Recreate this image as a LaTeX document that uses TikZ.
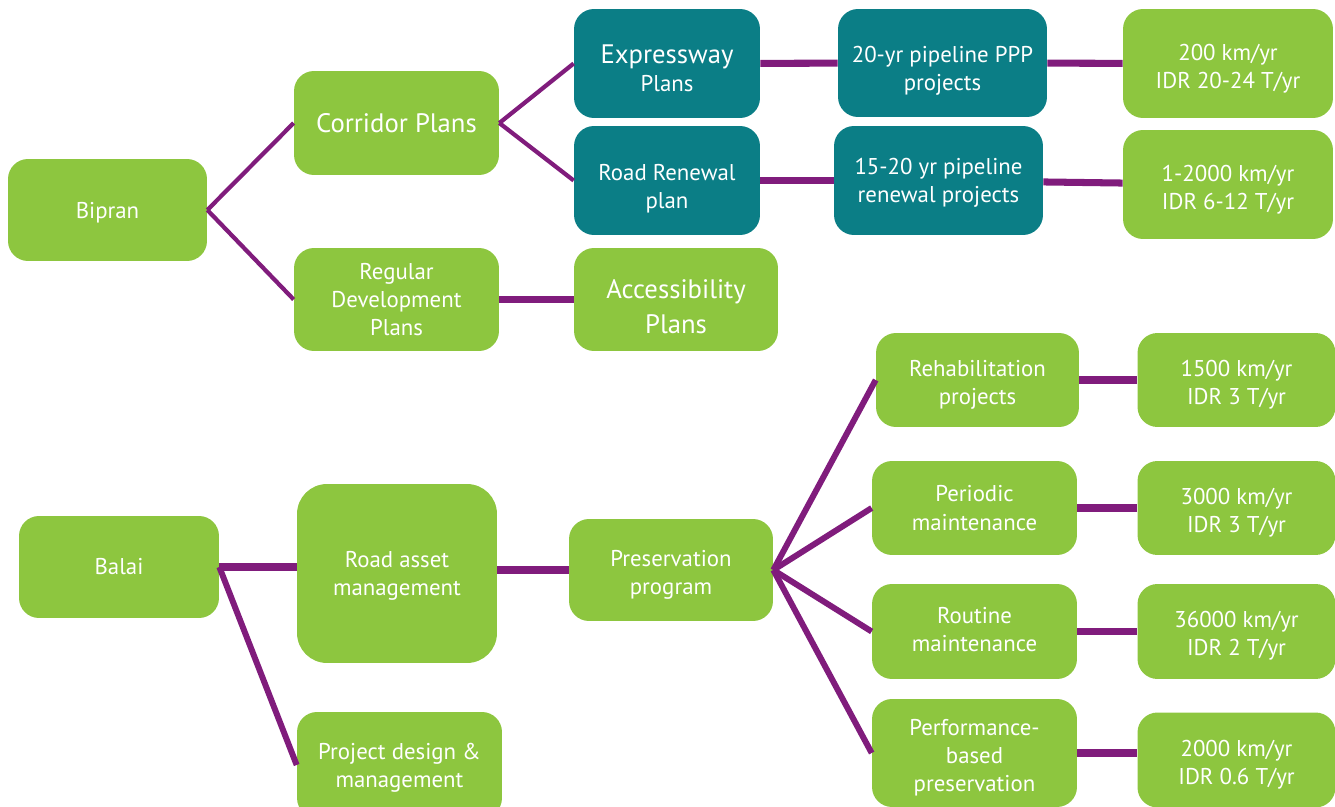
\documentclass[tikz,border=0pt]{standalone}
\usepackage{fontspec}
\setmainfont{PT Sans}
\definecolor{leaf}{RGB}{141,198,63}
\definecolor{petrol}{RGB}{11,126,134}
\definecolor{plum}{RGB}{128,28,124}
% text set a little below the middle of its box
\newcommand\lowtext[2]{\raisebox{-#1}[\height][\depth]{\begin{tabular}{@{}c@{}}#2\end{tabular}}}

\begin{document}
\begin{tikzpicture}[x=0.02cm,y=-0.02cm,
  box/.style={fill=leaf,rounded corners=0.4cm,text=white,align=center,inner sep=0pt,font=\fontsize{13}{16}\selectfont},
  tbox/.style={box,fill=petrol},
  big/.style={font=\fontsize{15.2}{20}\selectfont},
  thin/.style={plum,line width=2.4pt},
  thick/.style={plum,line width=4pt}]
\useasboundingbox (0,0) rectangle (1335,807);
\clip (0,0) rectangle (1335,807);
% upper tree
\node[box,text depth=0pt,minimum width=3.98cm,minimum height=2.04cm] (bipran) at (107.5,210) {Bipran};
\node[box,big,minimum width=4.1cm,minimum height=2.08cm] (corridor) at (396.5,123) {Corridor Plans};
\node[box,minimum width=4.1cm,minimum height=2.06cm] (regular) at (396.5,299.5) {Regular\\Development\\Plans};
\node[tbox,minimum width=3.72cm,minimum height=2.18cm] (express) at (667,63.5) {\lowtext{0.17cm}{{\fontsize{15.2}{20}\selectfont Expressway}\\Plans}};
\node[tbox,minimum width=4.18cm,minimum height=2.16cm] (ppppipe) at (942.5,63) {\lowtext{0.16cm}{20-yr pipeline PPP\\projects}};
\node[box,minimum width=4.2cm,minimum height=2.18cm] (ppplen) at (1228,63.5) {\lowtext{0.1cm}{200 km/yr\\IDR 20-24 T/yr}};
\node[tbox,minimum width=3.72cm,minimum height=2.18cm] (renewal) at (667,180.5) {\lowtext{0.16cm}{Road Renewal\\plan}};
\node[tbox,text depth=0pt,minimum width=4.18cm,minimum height=2.18cm] (renpipe) at (938.5,180.5) {15-20 yr pipeline\\renewal projects};
\node[box,minimum width=4.2cm,minimum height=2.18cm] (renlen) at (1228,184.5) {\lowtext{0.1cm}{1-2000 km/yr\\IDR 6-12 T/yr}};
\node[box,big,minimum width=4.08cm,minimum height=2.06cm] (access) at (676,299.5) {\lowtext{0.19cm}{Accessibility\\Plans}};

\draw[thin] (bipran.east) -- (corridor.west);
\draw[thin] (bipran.east) -- (regular.west);
\draw[thin] (corridor.east) -- (express.west);
\draw[thin] (corridor.east) -- (renewal.west);
\draw[thick] (express) -- (ppppipe);
\draw[thick] (ppppipe) -- (ppplen);
\draw[thick] (renewal) -- (renpipe);
\draw[thick] (renpipe) -- (renlen);
\draw[thick] (regular) -- (access);

% lower tree
\node[box,minimum width=4cm,minimum height=2.04cm] (balai) at (119,567) {Balai};
\node[box,text depth=0pt,rounded corners=0.6cm,minimum width=4cm,minimum height=3.58cm] (asset) at (397,573.5) {Road asset\\management};
\node[box,minimum width=4.1cm,minimum height=2.12cm] (design) at (399.5,765) {\lowtext{0.06cm}{Project design \&\\management}};
\node[box,minimum width=4.08cm,minimum height=2.04cm] (preserve) at (671,570) {\lowtext{0.1cm}{Preservation\\program}};
\node[box,minimum width=4.06cm,minimum height=1.88cm] (rehab) at (977.5,380) {\lowtext{0.1cm}{Rehabilitation\\projects}};
\node[box,minimum width=4.1cm,minimum height=1.88cm] (periodic) at (974.5,508) {Periodic\\maintenance};
\node[box,text depth=0.08cm,minimum width=4.1cm,minimum height=1.9cm] (routine) at (974.5,631.5) {Routine\\maintenance};
\node[box,minimum width=4.1cm,minimum height=2.16cm] (perform) at (974.5,753) {\lowtext{0.1cm}{Performance-\\based\\preservation}};
\node[box,minimum width=3.96cm,minimum height=1.88cm] (rehablen) at (1236.5,380) {\lowtext{0.1cm}{1500 km/yr\\IDR 3 T/yr}};
\node[box,minimum width=3.96cm,minimum height=1.88cm] (periodlen) at (1236.5,508) {\lowtext{0.1cm}{3000 km/yr\\IDR 3 T/yr}};
\node[box,minimum width=3.96cm,minimum height=1.9cm] (routinelen) at (1236.5,631.5) {\lowtext{0.08cm}{36000 km/yr\\IDR 2 T/yr}};
\node[box,minimum width=3.96cm,minimum height=1.9cm] (performlen) at (1236.5,760) {\lowtext{0.1cm}{2000 km/yr\\IDR 0.6 T/yr}};

\draw[thick] (balai.east) -- (balai.east -| asset.west);
\draw[thin,line width=3.4pt] (balai.east) -- (design.west);
\draw[thick] (asset.east |- preserve.east) -- (preserve.west);
\draw[thin,line width=3.4pt] (preserve.east) -- (rehab.west);
\draw[thin,line width=3.4pt] (preserve.east) -- (periodic.west);
\draw[thin,line width=3.4pt] (preserve.east) -- (routine.west);
\draw[thin,line width=3.4pt] (preserve.east) -- (perform.west);
\draw[thick] (rehab) -- (rehablen);
\draw[thick] (periodic) -- (periodlen);
\draw[thick] (routine) -- (routinelen);
\draw[thick] (perform.east) -- (perform.east -| performlen.west);
\end{tikzpicture}
\end{document}
